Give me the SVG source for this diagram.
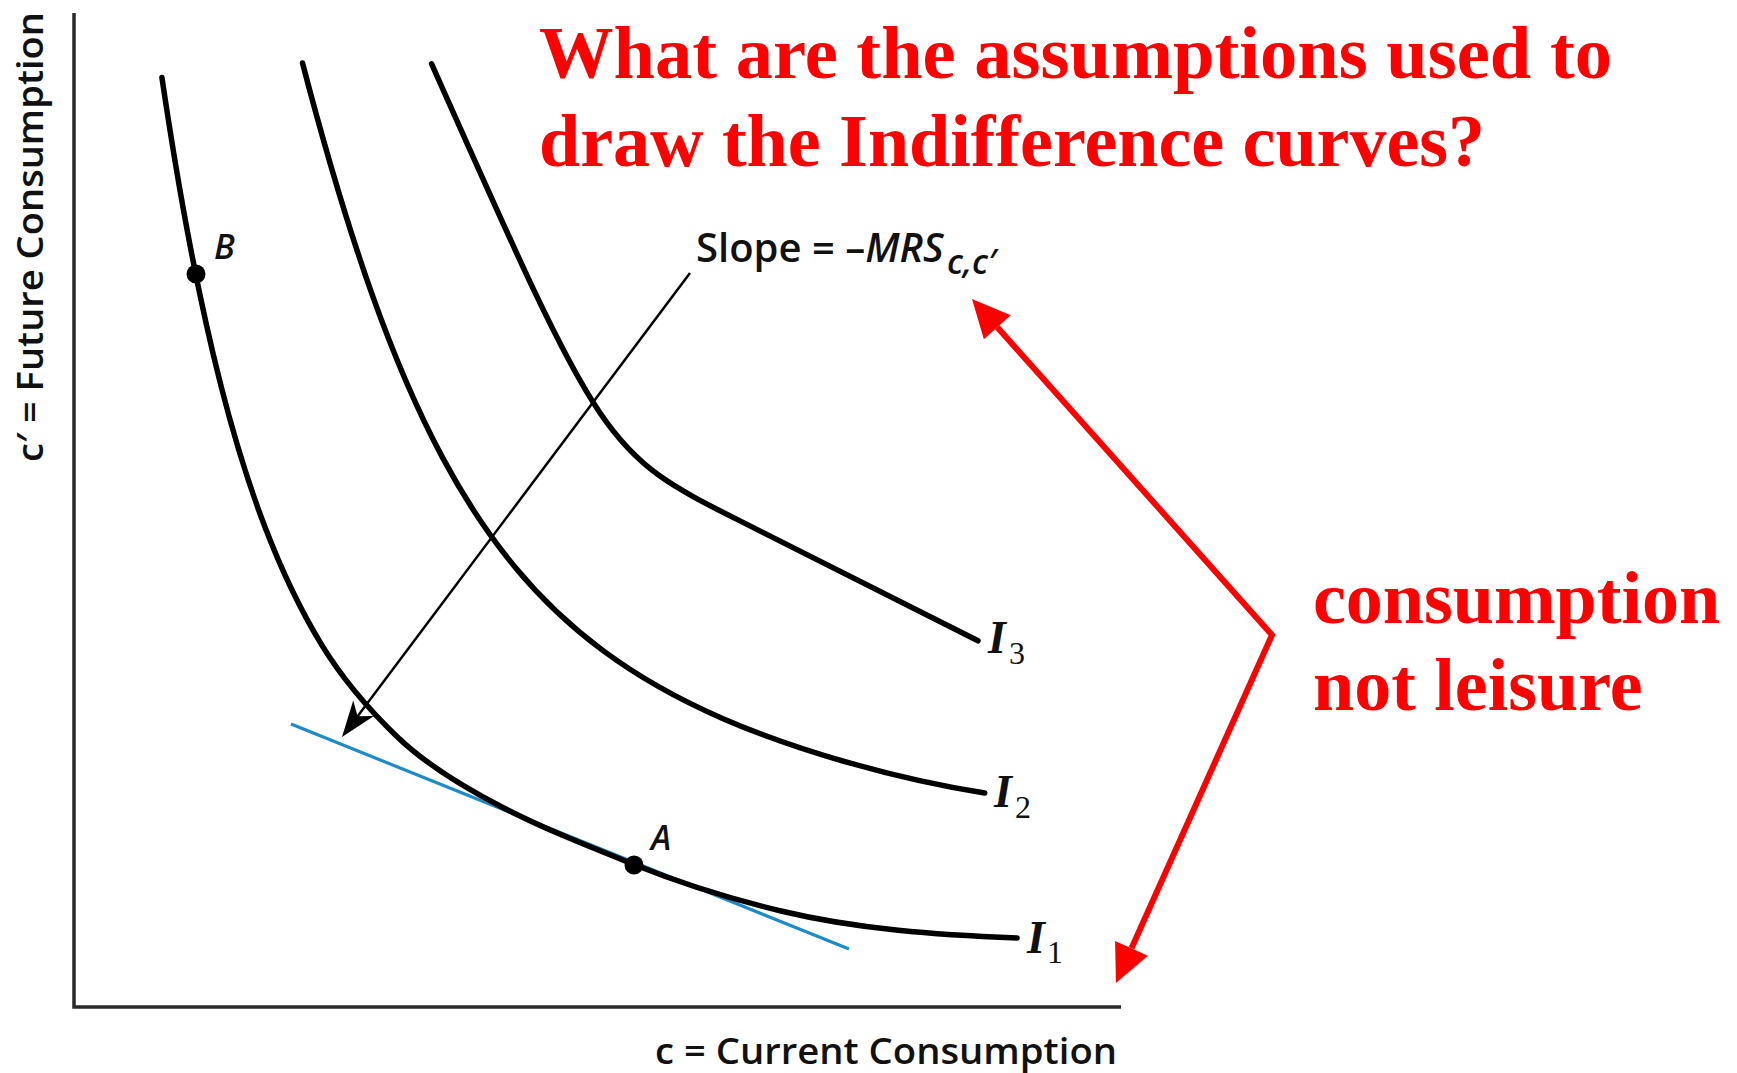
<svg xmlns="http://www.w3.org/2000/svg" width="1737" height="1073" viewBox="0 0 1737 1073">
<style>
.bg{fill:#ffffff}
.axis{stroke:#2a2a2a;stroke-width:3.5;fill:none}
.curve{stroke:#000;stroke-width:5.5;fill:none;stroke-linecap:round;stroke-linejoin:round}
.tangent{stroke:#1b8bc9;stroke-width:3.2;fill:none}
.pointer{stroke:#000;stroke-width:2.5;fill:none}
.redarrow{stroke:#ff0000;stroke-width:6;fill:none;stroke-linejoin:miter}
.lbl{font-family:"Open Sans","Noto Sans","Liberation Sans",sans-serif;font-weight:600;fill:#111}
.it{font-style:italic}
.ilbl{font-family:"Liberation Serif","DejaVu Serif",serif;fill:#111}
.red{font-family:"Liberation Serif","Times New Roman",serif;font-weight:bold;fill:#ff0000;font-size:74px}
.dot{fill:#000}
</style>
<defs>
<marker id="blackHead" markerUnits="userSpaceOnUse" orient="auto" refX="0" refY="0" markerWidth="60" markerHeight="60" overflow="visible">
<path d="M26,0 L-10,-13 L0,0 L-10,13 Z" fill="#000"/>
</marker>
<marker id="redHead" markerUnits="userSpaceOnUse" orient="auto-start-reverse" refX="0" refY="0" markerWidth="60" markerHeight="60" overflow="visible">
<path d="M0,-18 L38,0 L0,18 Z" fill="#ff0000"/>
</marker>
</defs>
<rect class="bg" x="0" y="0" width="1737" height="1073"/>

<g id="axes">
<path class="axis" d="M74,13 L74,1007 L1121,1007"/>
<text class="lbl" font-size="36" x="655" y="1064" textLength="462" lengthAdjust="spacingAndGlyphs">c = Current Consumption</text>
<text class="lbl" font-size="36" transform="translate(43,462) rotate(-90)" x="0" y="0" textLength="450" lengthAdjust="spacingAndGlyphs">c′ = Future Consumption</text>
</g>

<g id="connectors">
<path class="tangent" d="M291,724 L849,949"/>
<path class="pointer" d="M690,273 L357.6,716.2" marker-end="url(#blackHead)"/>
<path class="redarrow" d="M997.3,327.3 L1272,635 L1131.5,948.3" marker-start="url(#redHead)" marker-end="url(#redHead)"/>
</g>

<g id="curve-I1">
<path class="curve" d="M161.9,77.4 C170.7,136.6 178.8,185.0 186.6,227 C198.9,293.5 210.3,344.1 221.2,386.6 C236.4,446.2 250.8,489.8 264.6,526.1 C284.4,578.0 303.2,614.7 321.7,644.9 C342.4,678.7 368.8,709.5 397.4,737 C427.6,766.0 464.7,787.7 501.9,807 C544.5,829.1 589.5,846.6 634,864.5 C681.7,883.7 731.0,899.0 781,911 C858.0,929.5 937.9,934.8 1017,938"/>
<text class="ilbl" x="1027" y="953"><tspan font-style="italic" font-weight="bold" font-size="46">I</tspan><tspan font-size="32" x="1047" y="963">1</tspan></text>
</g>

<g id="curve-I2">
<path class="curve" d="M302.5,63 C330.5,170.2 352.2,238.4 371.8,293.6 C398.8,369.5 421.5,418.3 442.7,457.9 C468.6,506.3 492.2,539.5 514.7,566.7 C545.4,603.8 574.2,629.1 602.4,650.1 C643.7,680.8 683.4,701.4 722.5,718.4 C765.2,737.0 807.0,750.9 848.6,762.7 C894.3,775.7 939.6,786.0 984.7,793"/>
<text class="ilbl" x="994" y="807"><tspan font-style="italic" font-weight="bold" font-size="46">I</tspan><tspan font-size="32" x="1015" y="818">2</tspan></text>
</g>

<g id="curve-I3">
<path class="curve" d="M431.6,63.8 C604.4,452.6 604.4,452.6 740,520.9 L978,640.8"/>
<text class="ilbl" x="988" y="653"><tspan font-style="italic" font-weight="bold" font-size="46">I</tspan><tspan font-size="32" x="1009" y="664">3</tspan></text>
</g>

<g id="point-B">
<circle class="dot" cx="196" cy="274" r="9.5"/>
<text class="lbl it" font-size="34" x="214" y="259">B</text>
</g>

<g id="point-A">
<circle class="dot" cx="634" cy="865" r="9.5"/>
<text class="lbl it" font-size="34" x="651" y="850">A</text>
</g>

<g id="slope-label">
<text class="lbl" font-size="40" x="696" y="262">Slope = –<tspan class="it">MRS</tspan><tspan class="it" font-size="34" x="947" y="274">c,c′</tspan></text>
</g>

<g id="title">
<text class="red" x="539" y="78" textLength="1073" lengthAdjust="spacingAndGlyphs">What are the assumptions used to</text>
<text class="red" x="539" y="166">draw the Indifference curves?</text>
</g>

<g id="note">
<text class="red" x="1313" y="623">consumption</text>
<text class="red" x="1313" y="710">not leisure</text>
</g>
</svg>
